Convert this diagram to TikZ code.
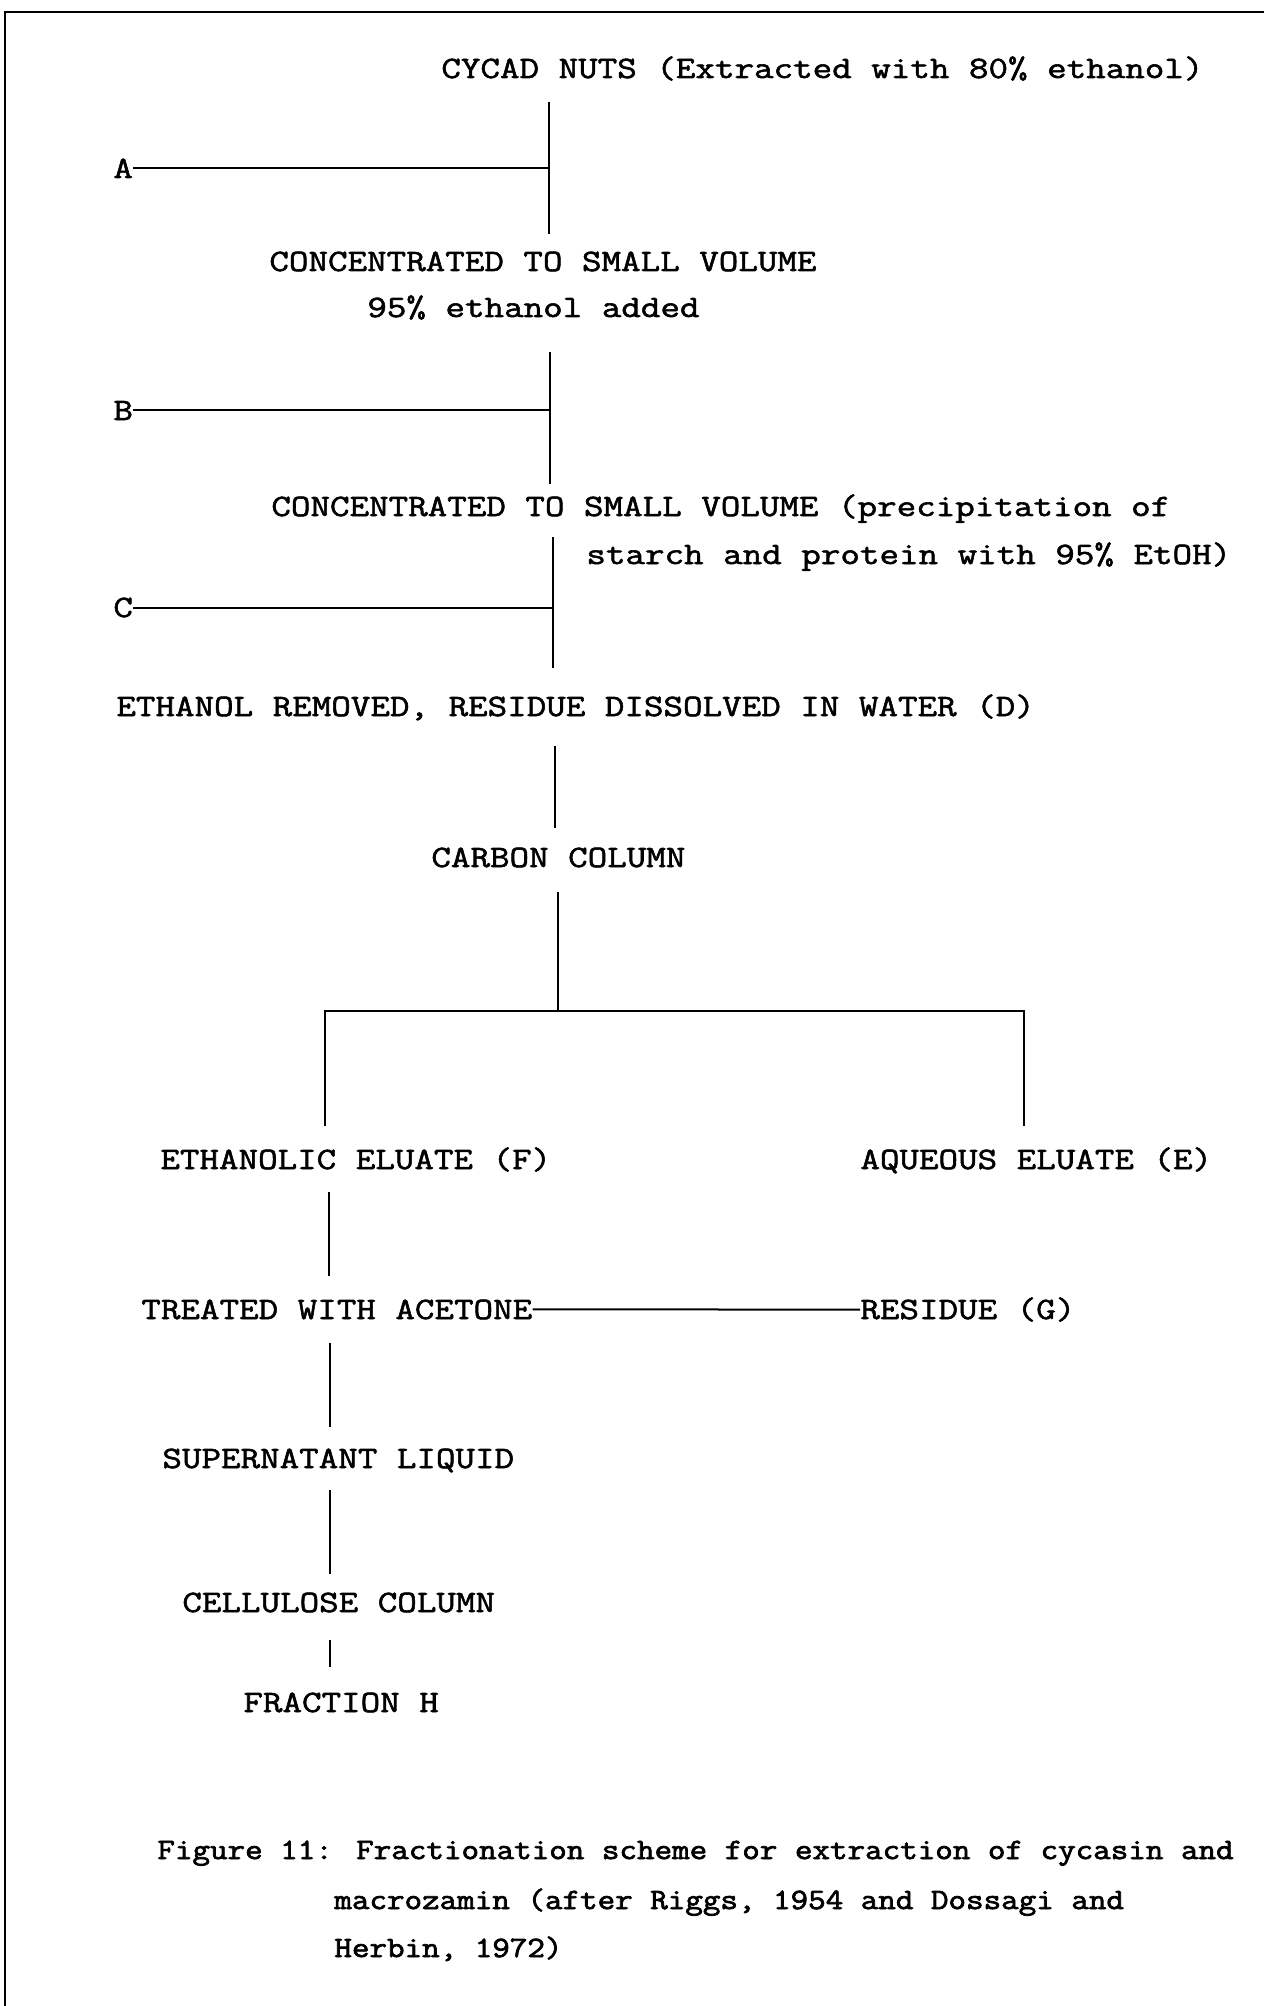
\documentclass[tikz,border=0pt]{standalone}
\usepackage{fontspec}
\newfontfamily\bodyfont[FakeStretch=1.22, FakeBold=1.8]{Latin Modern Mono}
\newfontfamily\captfont[FakeStretch=1.155, FakeBold=2.5]{Latin Modern Mono}
\begin{document}
\begin{tikzpicture}[x=0.5pt,y=-0.5pt,
  lbl/.style={anchor=base west, inner sep=0pt, font=\fontsize{15.55}{18}\selectfont\bodyfont},
  capt/.style={anchor=base west, inner sep=0pt, font=\fontsize{14.75}{17}\selectfont\captfont},
  ln/.style={line width=1pt},
  frame/.style={line width=1.4pt}]
\useasboundingbox (0,0) rectangle (1264,2006);
\fill[white] (0,0) rectangle (1264,2006);
% frame
\coordinate (fTL) at (5,12);
\coordinate (fTR) at (1264,12);
\coordinate (fBL) at (5,2006);
\draw[frame] (fTR) -- (fTL) -- (fBL);
% nodes
\node[lbl] (nuts) at (441,78) {CYCAD NUTS (Extracted with 80\% ethanol)};
\node[lbl] (conc1) at (269,271) {CONCENTRATED TO SMALL VOLUME};
\node[lbl] (eth95) at (367,317) {95\% ethanol added};
\node[lbl] (conc2) at (271,516) {CONCENTRATED TO SMALL VOLUME (precipitation of};
\node[lbl] (starch) at (586,564) {starch and protein with 95\% EtOH)};
\node[lbl] (A) at (113,178) {A};
\node[lbl] (B) at (113,420) {B};
\node[lbl] (C) at (113,617) {C};
\node[lbl] (D) at (116,716) {ETHANOL REMOVED, RESIDUE DISSOLVED IN WATER (D)};
\node[lbl] (carbon) at (431,867) {CARBON COLUMN};
\node[lbl] (F) at (160,1169) {ETHANOLIC ELUATE (F)};
\node[lbl] (E) at (860,1169) {AQUEOUS ELUATE (E)};
\node[lbl] (acet) at (141,1319) {TREATED WITH ACETONE};
\node[lbl] (G) at (860,1319) {RESIDUE (G)};
\node[lbl] (sup) at (162,1468) {SUPERNATANT LIQUID};
\node[lbl] (cell) at (182,1612) {CELLULOSE COLUMN};
\node[lbl] (H) at (243,1712) {FRACTION H};
\node[capt] (cap1) at (157,1859) {Figure 11: Fractionation scheme for extraction of cycasin and};
\node[capt] (cap2) at (334,1909) {macrozamin (after Riggs, 1954 and Dossagi and};
\node[capt] (cap3) at (334,1957) {Herbin, 1972)};
% trunk coordinates
\coordinate (t1a) at (549,102);  \coordinate (t1b) at (549,234);
\coordinate (t2a) at (550,352);  \coordinate (t2b) at (550,484);
\coordinate (t3a) at (553,537);  \coordinate (t3b) at (553,668);
\coordinate (t4a) at (555,746);  \coordinate (t4b) at (555,828);
\coordinate (t5a) at (558,892);  \coordinate (t5b) at (558,1011);
\coordinate (brL) at (325,1011); \coordinate (brR) at (1024,1011);
\coordinate (brLd) at (325,1126); \coordinate (brRd) at (1024,1126);
\coordinate (f1a) at (329,1192); \coordinate (f1b) at (329,1276);
\coordinate (f2a) at (330,1343); \coordinate (f2b) at (330,1427);
\coordinate (f3a) at (330,1490); \coordinate (f3b) at (330,1574);
\coordinate (f4a) at (330,1640); \coordinate (f4b) at (330,1667);
% connectors
\draw[ln] (t1a) -- (t1b);
\draw[ln] (A.east) -- (A.east -| t1a);
\draw[ln] (t2a) -- (t2b);
\draw[ln] (B.east) -- (B.east -| t2a);
\draw[ln] (t3a) -- (t3b);
\draw[ln] (C.east) -- (C.east -| t3a);
\draw[ln] (t4a) -- (t4b);
\draw[ln] (t5a) -- (t5b);
\draw[ln] (brLd) -- (brL) -- (brR) -- (brRd);
\draw[ln] (f1a) -- (f1b);
\draw[ln] (acet.east) -- (G.west);
\draw[ln] (f2a) -- (f2b);
\draw[ln] (f3a) -- (f3b);
\draw[ln] (f4a) -- (f4b);
\end{tikzpicture}
\end{document}
